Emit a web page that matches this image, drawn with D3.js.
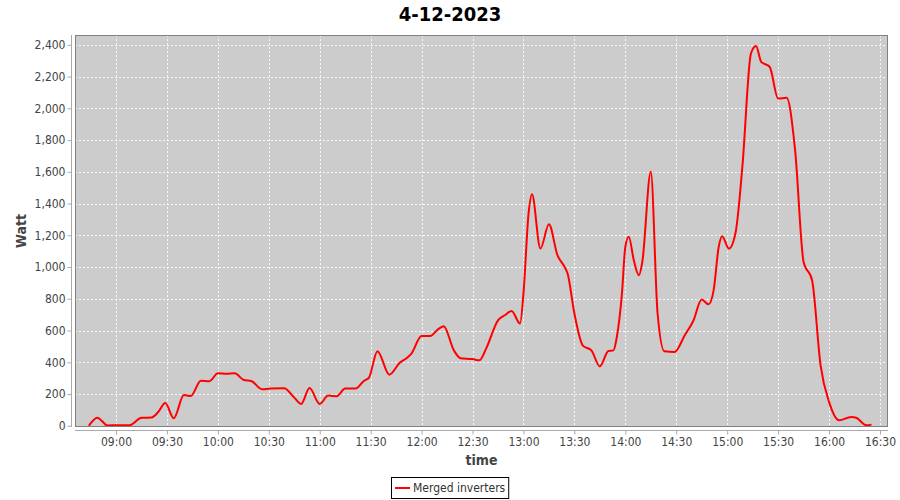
<!DOCTYPE html>
<html>
<head>
<meta charset="utf-8">
<script src="https://cdn.jsdelivr.net/npm/d3@7"></script>
<style>
  html, body { margin: 0; padding: 0; background: #ffffff; }
  svg text { font-family: 'DejaVu Sans Condensed', 'DejaVu Sans', sans-serif; font-stretch: condensed; }
</style>
</head>
<body>
<svg id="chart" width="900" height="500"></svg>
<script>
const chartTitle = "4-12-2023";
const seriesName = "Merged inverters";
const xAxisLabel = "time";
const yAxisLabel = "Watt";

const times = ["08:44","08:49","08:55","09:00","09:08","09:15","09:21","09:25","09:29","09:34",
  "09:40","09:44","09:50","09:55","10:00","10:05","10:10","10:15","10:20","10:26",
  "10:31","10:39","10:45","10:49","10:54","11:00","11:05","11:10","11:15","11:21",
  "11:26","11:29","11:34","11:41","11:47","11:52","11:54","12:00","12:05","12:10",
  "12:13","12:19","12:23","12:30","12:34","12:38","12:45","12:49","12:53","12:58",
  "13:00","13:03","13:05","13:10","13:15","13:20","13:24","13:26","13:30","13:35",
  "13:40","13:45","13:50","13:53","13:55","13:58","14:00","14:02","14:05","14:08",
  "14:10","14:15","14:19","14:23","14:29","14:35","14:40","14:45","14:49","14:52",
  "14:55","14:57","15:01","15:05","15:09","15:14","15:17","15:20","15:25","15:30",
  "15:35","15:40","15:45","15:50","15:55","16:00","16:06","16:13","16:16","16:22","16:25"];

const watts = [0,51,2,3,3,50,52,88,143,47,
  194,187,284,281,330,327,330,290,280,230,
  234,236,177,137,237,137,190,186,234,234,
  282,303,470,322,395,433,455,565,565,610,
  627,475,425,420,412,486,664,696,723,644,
  833,1337,1459,1116,1270,1075,1005,959,707,505,
  475,374,471,475,559,833,1127,1190,1043,948,
  1032,1600,707,469,465,570,660,795,765,853,
  1127,1194,1116,1221,1641,2346,2392,2293,2262,2062,
  2066,1736,1032,917,381,150,34,55,50,3,7];

const yTicks = [0,200,400,600,800,1000,1200,1400,1600,1800,2000,2200,2400];
const xTickLabels = ["09:00","09:30","10:00","10:30","11:00","11:30","12:00","12:30",
  "13:00","13:30","14:00","14:30","15:00","15:30","16:00","16:30"];
const xRange = ["08:35:51","16:34:43"];
const yRange = [-8, 2462];

function toDate(s) {
  const p = s.split(":").map(Number);
  return new Date(2023, 11, 4, p[0], p[1], p[2] || 0);
}

const data = times.map((t, i) => ({ t: toDate(t), v: watts[i] }));

const svg = d3.select("#chart");
const plot = { left: 75, top: 35, right: 888, bottom: 427 };

const x = d3.scaleTime().domain(xRange.map(toDate)).range([plot.left, plot.right]);
const y = d3.scaleLinear().domain(yRange).range([plot.bottom, plot.top]);

// title
svg.append("text")
  .attr("x", 450).attr("y", 21)
  .attr("text-anchor", "middle")
  .style("font-size", "20px").style("font-weight", "bold")
  .attr("fill", "#000")
  .text(chartTitle);

// plot background
svg.append("rect")
  .attr("x", plot.left).attr("y", plot.top)
  .attr("width", plot.right - plot.left).attr("height", plot.bottom - plot.top)
  .attr("fill", "#cccccc");

const xTickDates = xTickLabels.map(toDate);

// gridlines
const grid = svg.append("g").attr("stroke", "#ffffff").attr("stroke-width", 1)
  .attr("stroke-dasharray", "2,2").attr("opacity", 0.85);
grid.selectAll("line.v").data(xTickDates).enter().append("line")
  .attr("x1", d => Math.round(x(d)) + 0.5).attr("x2", d => Math.round(x(d)) + 0.5)
  .attr("y1", plot.top).attr("y2", plot.bottom);
grid.selectAll("line.h").data(yTicks).enter().append("line")
  .attr("y1", d => Math.round(y(d)) + 0.5).attr("y2", d => Math.round(y(d)) + 0.5)
  .attr("x1", plot.left).attr("x2", plot.right);

// line
const clip = svg.append("clipPath").attr("id", "clip").append("rect")
  .attr("x", plot.left).attr("y", plot.top)
  .attr("width", plot.right - plot.left).attr("height", plot.bottom - plot.top);

const line = d3.line().x(d => x(d.t)).y(d => y(d.v)).curve(d3.curveMonotoneX);
svg.append("path").datum(data)
  .attr("clip-path", "url(#clip)")
  .attr("fill", "none").attr("stroke", "#ff0000").attr("stroke-width", 2)
  .attr("stroke-linejoin", "round")
  .attr("d", line);

// plot border
svg.append("rect")
  .attr("x", plot.left + 0.5).attr("y", plot.top + 0.5)
  .attr("width", plot.right - plot.left - 1).attr("height", plot.bottom - plot.top - 1)
  .attr("fill", "none").attr("stroke", "#808080").attr("stroke-width", 1);

// y axis (offset 4px)
const yAxis = d3.axisLeft(y).tickValues(yTicks).tickFormat(d3.format(",")).tickSize(4).tickPadding(2);
const gy = svg.append("g").attr("transform", `translate(${plot.left - 3.5},0)`).call(yAxis);
gy.select(".domain").attr("stroke", "#aaaaaa").attr("d", `M0,${plot.top}V${plot.bottom}`);
gy.selectAll(".tick line").attr("stroke", "#aaaaaa");
gy.selectAll(".tick text").attr("fill", "#444444").style("font-size", "12px");

// x axis (offset 4px)
const xAxis = d3.axisBottom(x).tickValues(xTickDates).tickFormat(d3.timeFormat("%H:%M")).tickSize(4).tickPadding(3);
const gx = svg.append("g").attr("transform", `translate(0,${plot.bottom + 3.5})`).call(xAxis);
gx.select(".domain").attr("stroke", "#aaaaaa").attr("d", `M${plot.left},0H${plot.right}`);
gx.selectAll(".tick line").attr("stroke", "#aaaaaa");
gx.selectAll(".tick text").attr("fill", "#444444").style("font-size", "12px");

// axis labels
svg.append("text")
  .attr("transform", `translate(26,${(plot.top + plot.bottom) / 2}) rotate(-90)`)
  .attr("text-anchor", "middle")
  .style("font-size", "14px").style("font-weight", "bold")
  .attr("fill", "#444444")
  .text(yAxisLabel);

svg.append("text")
  .attr("x", (plot.left + plot.right) / 2).attr("y", 465)
  .attr("text-anchor", "middle")
  .style("font-size", "14px").style("font-weight", "bold")
  .attr("fill", "#444444")
  .text(xAxisLabel);

// legend
const lg = svg.append("g");
const lt = lg.append("text")
  .attr("x", 413).attr("y", 492)
  .style("font-size", "12px").attr("fill", "#333333")
  .text(seriesName);
const tw = lt.node().getComputedTextLength();
const boxW = (413 - 391) + tw + 3;
lg.insert("rect", "text")
  .attr("x", 391.5).attr("y", 477.5)
  .attr("width", boxW).attr("height", 21)
  .attr("fill", "#ffffff").attr("stroke", "#000000").attr("stroke-width", 1);
lg.append("line")
  .attr("x1", 395).attr("x2", 410).attr("y1", 488).attr("y2", 488)
  .attr("stroke", "#ff0000").attr("stroke-width", 2);
</script>
</body>
</html>
